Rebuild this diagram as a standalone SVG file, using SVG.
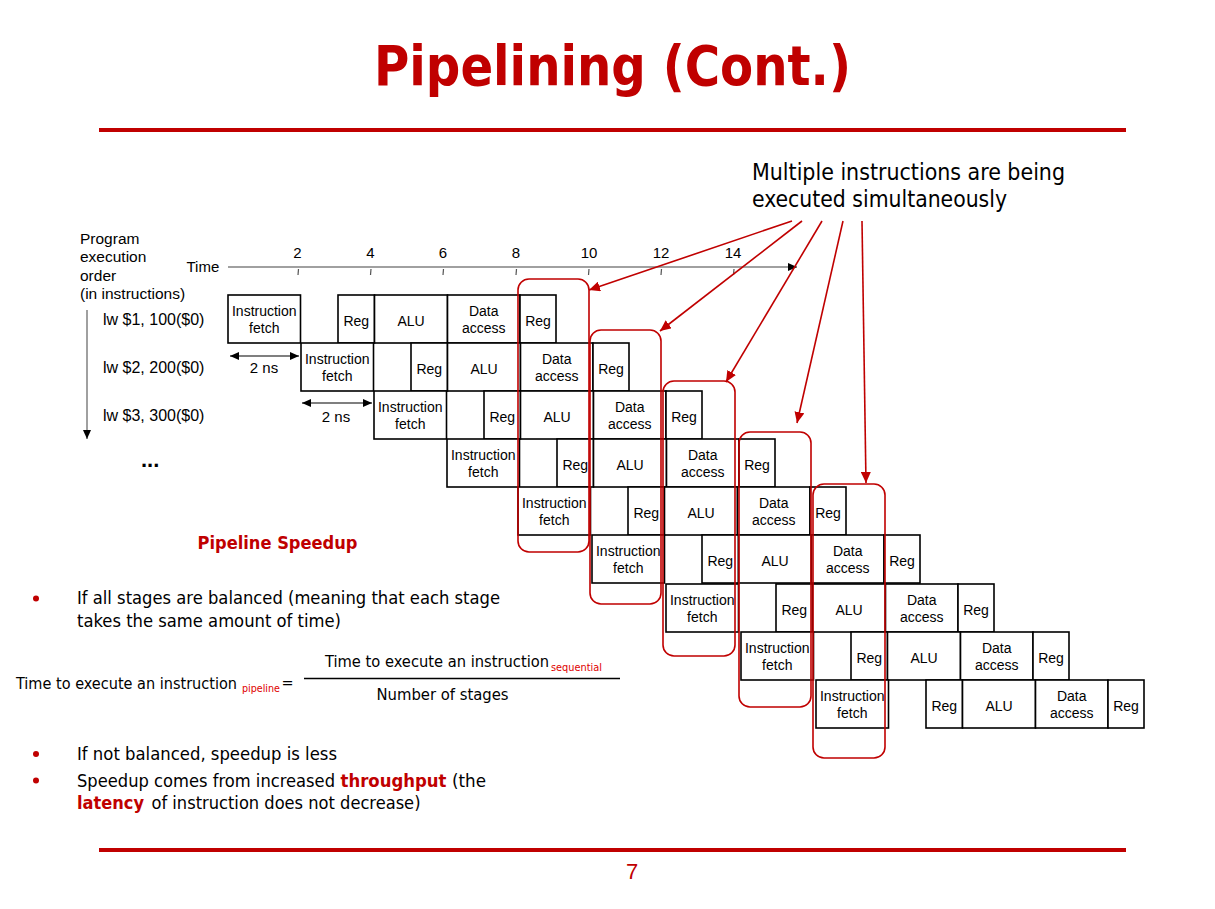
<svg xmlns="http://www.w3.org/2000/svg" width="1215" height="909" viewBox="0 0 1215 909">
<style>
.box{fill:#fff;stroke:#000;stroke-width:1.6}
.bt{font-family:"Liberation Sans",Arial,sans-serif;font-size:14px;text-anchor:middle;fill:#000}
.lb{font-family:"Liberation Sans",Arial,sans-serif;fill:#000}
.tah{font-family:"DejaVu Sans Condensed","DejaVu Sans","Noto Sans",sans-serif;font-stretch:condensed;fill:#000}
.rbox{fill:none;stroke:#c00000;stroke-width:1.6}
.rarr{fill:none;stroke:#c00000;stroke-width:1.6}
.rule{stroke:#c00000;stroke-width:4}
.red{fill:#c00000}
.sub{font-size:11px;fill:#e00000}
.em{font-weight:bold;fill:#c00000}
</style>
<defs>
<marker id="rh" markerUnits="userSpaceOnUse" markerWidth="12" markerHeight="10" refX="11" refY="5" orient="auto"><path d="M0,0 L11,5 L0,10 z" fill="#c00000"/></marker>
<marker id="bh" markerUnits="userSpaceOnUse" markerWidth="10" markerHeight="8" refX="9" refY="4" orient="auto"><path d="M0,0 L9,4 L0,8 z" fill="#000"/></marker>
<marker id="bhs" markerUnits="userSpaceOnUse" markerWidth="10" markerHeight="8" refX="1" refY="4" orient="auto"><path d="M10,0 L1,4 L10,8 z" fill="#000"/></marker>
</defs>
<rect width="1215" height="909" fill="#fff"/>

<!-- Title -->
<text class="tah" x="374" y="85" font-size="55" font-weight="bold" style="fill:#c00000" textLength="477" lengthAdjust="spacingAndGlyphs">Pipelining (Cont.)</text>
<line class="rule" x1="99" y1="130" x2="1126" y2="130"/>
<line class="rule" x1="99" y1="850" x2="1126" y2="850"/>
<text class="lb" x="632" y="879" font-size="22" text-anchor="middle" style="fill:#c00000">7</text>

<!-- Callout -->
<text class="tah" x="752" y="180" font-size="23" textLength="313" lengthAdjust="spacingAndGlyphs">Multiple instructions are being</text>
<text class="tah" x="752" y="207" font-size="23" textLength="255" lengthAdjust="spacingAndGlyphs">executed simultaneously</text>

<!-- Left labels -->
<g id="labels">
<text class="lb" x="80" y="244" font-size="15.5">Program</text>
<text class="lb" x="80" y="262" font-size="15.5">execution</text>
<text class="lb" x="80" y="281" font-size="15.5">order</text>
<text class="lb" x="80" y="299" font-size="15.5">(in instructions)</text>
<text class="lb" x="103" y="325" font-size="16">lw $1, 100($0)</text>
<text class="lb" x="103" y="373" font-size="16">lw $2, 200($0)</text>
<text class="lb" x="103" y="421" font-size="16">lw $3, 300($0)</text>
<text class="lb" x="141" y="467" font-size="22" font-weight="bold">...</text>
<text class="lb" x="186.5" y="272" font-size="15">Time</text>
<text class="lb" x="264" y="373" font-size="15" text-anchor="middle">2 ns</text>
<text class="lb" x="336" y="422" font-size="15" text-anchor="middle">2 ns</text>
</g>

<!-- Time axis -->
<g id="axis">
<line x1="228" y1="267" x2="797" y2="267" stroke="#808080" stroke-width="1.5" marker-end="url(#bh)"/>
<g stroke="#555" stroke-width="1.2">
<line x1="298.5" y1="269" x2="298" y2="275"/>
<line x1="371" y1="269" x2="370.5" y2="275"/>
<line x1="443.5" y1="269" x2="443" y2="275"/>
<line x1="516.5" y1="269" x2="516" y2="275"/>
<line x1="589" y1="269" x2="588.5" y2="275"/>
<line x1="661.5" y1="269" x2="661" y2="275"/>
<line x1="734" y1="269" x2="733.5" y2="275"/>
</g>
<g class="lb" font-size="15" text-anchor="middle">
<text x="297.5" y="258">2</text>
<text x="370.5" y="258">4</text>
<text x="443" y="258">6</text>
<text x="516" y="258">8</text>
<text x="589" y="258">10</text>
<text x="661" y="258">12</text>
<text x="733" y="258">14</text>
</g>
<line x1="87" y1="310" x2="87" y2="439" stroke="#808080" stroke-width="1.5" marker-end="url(#bh)"/>
<line x1="230" y1="356" x2="299" y2="356" stroke="#000" stroke-width="1.2" marker-start="url(#bhs)" marker-end="url(#bh)"/>
<line x1="302" y1="403" x2="372" y2="403" stroke="#000" stroke-width="1.2" marker-start="url(#bhs)" marker-end="url(#bh)"/>
</g>

<!-- Pipeline rows -->
<g id="row1" transform="translate(228,295)">
<g id="r1-if"><rect class="box" width="72.5" height="48"/><text class="bt" x="36.25" y="21">Instruction</text><text class="bt" x="36.25" y="37.5">fetch</text></g>
<g id="r1-reg1"><rect class="box" x="110" width="36.5" height="48"/><text class="bt" x="128.25" y="31">Reg</text></g>
<g id="r1-alu"><rect class="box" x="146.5" width="73" height="48"/><text class="bt" x="183" y="31">ALU</text></g>
<g id="r1-da"><rect class="box" x="219.5" width="72.5" height="48"/><text class="bt" x="255.75" y="21">Data</text><text class="bt" x="255.75" y="37.5">access</text></g>
<g id="r1-reg2"><rect class="box" x="292" width="36" height="48"/><text class="bt" x="310" y="31">Reg</text></g>
</g>
<g id="row2" transform="translate(301,343)">
<g id="r2-if"><rect class="box" width="72.5" height="48"/><text class="bt" x="36.25" y="21">Instruction</text><text class="bt" x="36.25" y="37.5">fetch</text></g>
<g id="r2-reg1"><rect class="box" x="110" width="36.5" height="48"/><text class="bt" x="128.25" y="31">Reg</text></g>
<g id="r2-alu"><rect class="box" x="146.5" width="73" height="48"/><text class="bt" x="183" y="31">ALU</text></g>
<g id="r2-da"><rect class="box" x="219.5" width="72.5" height="48"/><text class="bt" x="255.75" y="21">Data</text><text class="bt" x="255.75" y="37.5">access</text></g>
<g id="r2-reg2"><rect class="box" x="292" width="36" height="48"/><text class="bt" x="310" y="31">Reg</text></g>
</g>
<g id="row3" transform="translate(374,391)">
<g id="r3-if"><rect class="box" width="72.5" height="48"/><text class="bt" x="36.25" y="21">Instruction</text><text class="bt" x="36.25" y="37.5">fetch</text></g>
<g id="r3-reg1"><rect class="box" x="110" width="36.5" height="48"/><text class="bt" x="128.25" y="31">Reg</text></g>
<g id="r3-alu"><rect class="box" x="146.5" width="73" height="48"/><text class="bt" x="183" y="31">ALU</text></g>
<g id="r3-da"><rect class="box" x="219.5" width="72.5" height="48"/><text class="bt" x="255.75" y="21">Data</text><text class="bt" x="255.75" y="37.5">access</text></g>
<g id="r3-reg2"><rect class="box" x="292" width="36" height="48"/><text class="bt" x="310" y="31">Reg</text></g>
</g>
<g id="row4" transform="translate(447,439)">
<g id="r4-if"><rect class="box" width="72.5" height="48"/><text class="bt" x="36.25" y="21">Instruction</text><text class="bt" x="36.25" y="37.5">fetch</text></g>
<g id="r4-reg1"><rect class="box" x="110" width="36.5" height="48"/><text class="bt" x="128.25" y="31">Reg</text></g>
<g id="r4-alu"><rect class="box" x="146.5" width="73" height="48"/><text class="bt" x="183" y="31">ALU</text></g>
<g id="r4-da"><rect class="box" x="219.5" width="72.5" height="48"/><text class="bt" x="255.75" y="21">Data</text><text class="bt" x="255.75" y="37.5">access</text></g>
<g id="r4-reg2"><rect class="box" x="292" width="36" height="48"/><text class="bt" x="310" y="31">Reg</text></g>
</g>
<g id="row5" transform="translate(518,487)">
<g id="r5-if"><rect class="box" width="72.5" height="48"/><text class="bt" x="36.25" y="21">Instruction</text><text class="bt" x="36.25" y="37.5">fetch</text></g>
<g id="r5-reg1"><rect class="box" x="110" width="36.5" height="48"/><text class="bt" x="128.25" y="31">Reg</text></g>
<g id="r5-alu"><rect class="box" x="146.5" width="73" height="48"/><text class="bt" x="183" y="31">ALU</text></g>
<g id="r5-da"><rect class="box" x="219.5" width="72.5" height="48"/><text class="bt" x="255.75" y="21">Data</text><text class="bt" x="255.75" y="37.5">access</text></g>
<g id="r5-reg2"><rect class="box" x="292" width="36" height="48"/><text class="bt" x="310" y="31">Reg</text></g>
</g>
<g id="row6" transform="translate(592,535)">
<g id="r6-if"><rect class="box" width="72.5" height="48"/><text class="bt" x="36.25" y="21">Instruction</text><text class="bt" x="36.25" y="37.5">fetch</text></g>
<g id="r6-reg1"><rect class="box" x="110" width="36.5" height="48"/><text class="bt" x="128.25" y="31">Reg</text></g>
<g id="r6-alu"><rect class="box" x="146.5" width="73" height="48"/><text class="bt" x="183" y="31">ALU</text></g>
<g id="r6-da"><rect class="box" x="219.5" width="72.5" height="48"/><text class="bt" x="255.75" y="21">Data</text><text class="bt" x="255.75" y="37.5">access</text></g>
<g id="r6-reg2"><rect class="box" x="292" width="36" height="48"/><text class="bt" x="310" y="31">Reg</text></g>
</g>
<g id="row7" transform="translate(666,584)">
<g id="r7-if"><rect class="box" width="72.5" height="48"/><text class="bt" x="36.25" y="21">Instruction</text><text class="bt" x="36.25" y="37.5">fetch</text></g>
<g id="r7-reg1"><rect class="box" x="110" width="36.5" height="48"/><text class="bt" x="128.25" y="31">Reg</text></g>
<g id="r7-alu"><rect class="box" x="146.5" width="73" height="48"/><text class="bt" x="183" y="31">ALU</text></g>
<g id="r7-da"><rect class="box" x="219.5" width="72.5" height="48"/><text class="bt" x="255.75" y="21">Data</text><text class="bt" x="255.75" y="37.5">access</text></g>
<g id="r7-reg2"><rect class="box" x="292" width="36" height="48"/><text class="bt" x="310" y="31">Reg</text></g>
</g>
<g id="row8" transform="translate(741,632)">
<g id="r8-if"><rect class="box" width="72.5" height="48"/><text class="bt" x="36.25" y="21">Instruction</text><text class="bt" x="36.25" y="37.5">fetch</text></g>
<g id="r8-reg1"><rect class="box" x="110" width="36.5" height="48"/><text class="bt" x="128.25" y="31">Reg</text></g>
<g id="r8-alu"><rect class="box" x="146.5" width="73" height="48"/><text class="bt" x="183" y="31">ALU</text></g>
<g id="r8-da"><rect class="box" x="219.5" width="72.5" height="48"/><text class="bt" x="255.75" y="21">Data</text><text class="bt" x="255.75" y="37.5">access</text></g>
<g id="r8-reg2"><rect class="box" x="292" width="36" height="48"/><text class="bt" x="310" y="31">Reg</text></g>
</g>
<g id="row9" transform="translate(816,680)">
<g id="r9-if"><rect class="box" width="72.5" height="48"/><text class="bt" x="36.25" y="21">Instruction</text><text class="bt" x="36.25" y="37.5">fetch</text></g>
<g id="r9-reg1"><rect class="box" x="110" width="36.5" height="48"/><text class="bt" x="128.25" y="31">Reg</text></g>
<g id="r9-alu"><rect class="box" x="146.5" width="73" height="48"/><text class="bt" x="183" y="31">ALU</text></g>
<g id="r9-da"><rect class="box" x="219.5" width="72.5" height="48"/><text class="bt" x="255.75" y="21">Data</text><text class="bt" x="255.75" y="37.5">access</text></g>
<g id="r9-reg2"><rect class="box" x="292" width="36" height="48"/><text class="bt" x="310" y="31">Reg</text></g>
</g>

<!-- Red highlight boxes -->
<g id="highlights">
<rect id="hl1" class="rbox" x="518" y="279" width="71" height="273" rx="11"/>
<rect id="hl2" class="rbox" x="590" y="330" width="71" height="274" rx="11"/>
<rect id="hl3" class="rbox" x="663" y="381" width="72" height="275" rx="11"/>
<rect id="hl4" class="rbox" x="739" y="432" width="72" height="275" rx="11"/>
<rect id="hl5" class="rbox" x="813" y="484" width="72" height="274" rx="11"/>
</g>

<!-- Connectors -->
<g id="connectors">
<line class="rarr" x1="792" y1="221" x2="589" y2="290" marker-end="url(#rh)"/>
<line class="rarr" x1="802" y1="221" x2="660" y2="331" marker-end="url(#rh)"/>
<line class="rarr" x1="822" y1="221" x2="726" y2="382" marker-end="url(#rh)"/>
<line class="rarr" x1="843" y1="221" x2="797" y2="423" marker-end="url(#rh)"/>
<line class="rarr" x1="862" y1="221" x2="866" y2="483" marker-end="url(#rh)"/>
</g>

<!-- Speedup text -->
<text class="tah" x="197.5" y="549" font-size="18" font-weight="bold" style="fill:#c00000" textLength="160" lengthAdjust="spacingAndGlyphs">Pipeline Speedup</text>

<circle class="red" cx="36" cy="598.5" r="3"/>
<circle class="red" cx="36" cy="754" r="3"/>
<circle class="red" cx="36" cy="780.5" r="3"/>
<text class="tah" x="77" y="604" font-size="18" textLength="423" lengthAdjust="spacingAndGlyphs">If all stages are balanced (meaning that each stage</text>
<text class="tah" x="77" y="627" font-size="18" textLength="264" lengthAdjust="spacingAndGlyphs">takes the same amount of time)</text>

<text class="tah" font-size="16" y="688.5"><tspan x="16" textLength="221" lengthAdjust="spacingAndGlyphs">Time to execute an instruction</tspan><tspan class="sub" x="242" dy="3.5" textLength="38" lengthAdjust="spacingAndGlyphs">pipeline</tspan><tspan x="281.5" dy="-4">=</tspan></text>
<line x1="304" y1="678.5" x2="620" y2="678.5" stroke="#000" stroke-width="1.3"/>
<text class="tah" font-size="16" y="667"><tspan x="325" textLength="224" lengthAdjust="spacingAndGlyphs">Time to execute an instruction</tspan><tspan class="sub" x="551" dy="3.5" textLength="51" lengthAdjust="spacingAndGlyphs">sequential</tspan></text>
<text class="tah" x="376.5" y="700" font-size="16" textLength="132" lengthAdjust="spacingAndGlyphs">Number of stages</text>

<text class="tah" x="77" y="760" font-size="18" textLength="260" lengthAdjust="spacingAndGlyphs">If not balanced, speedup is less</text>
<text class="tah" font-size="18" y="786.5"><tspan x="77" textLength="258" lengthAdjust="spacingAndGlyphs">Speedup comes from increased</tspan><tspan class="em" x="340.5" textLength="106" lengthAdjust="spacingAndGlyphs">throughput</tspan><tspan x="452" textLength="34" lengthAdjust="spacingAndGlyphs">(the</tspan></text>
<text class="tah" font-size="18" y="808.5"><tspan class="em" x="77" textLength="67" lengthAdjust="spacingAndGlyphs">latency</tspan><tspan x="151.5" textLength="269" lengthAdjust="spacingAndGlyphs">of instruction does not decrease)</tspan></text>
</svg>
